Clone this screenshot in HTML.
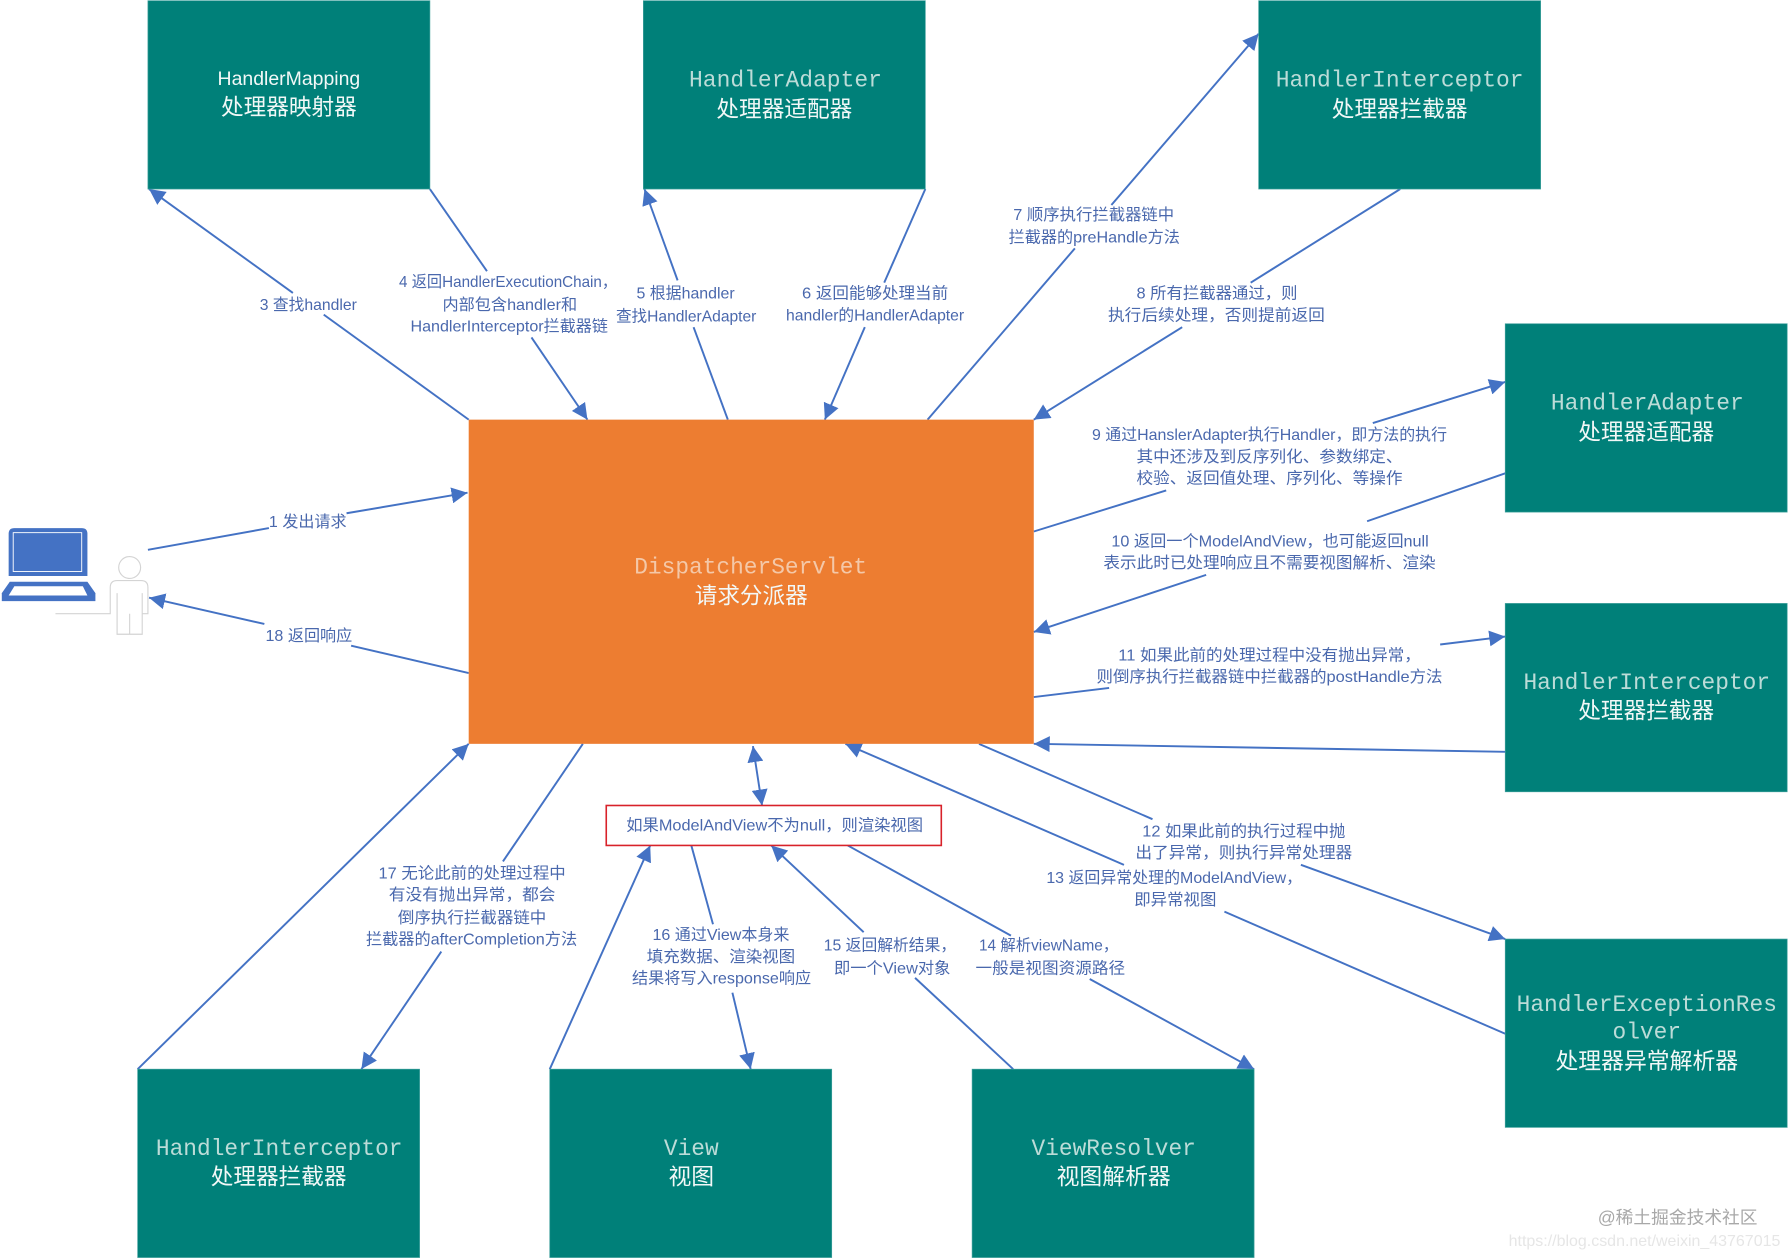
<!DOCTYPE html>
<html lang="zh">
<head>
<meta charset="utf-8">
<title>Spring MVC DispatcherServlet flow</title>
<style>
html,body{margin:0;padding:0;background:#fff;width:1789px;height:1258px;overflow:hidden}
svg{display:block}
.l{font-family:"Liberation Sans","Noto Sans CJK SC",sans-serif;font-size:14px;fill:#4a68ad}
.m{font-family:"Liberation Mono",monospace;font-size:20px;fill:#bcdcd8}
.c{font-family:"Liberation Sans","Noto Sans CJK SC",sans-serif;font-size:20px;fill:#f2f8f7}
.box{fill:#008079;stroke:#3fa09c;stroke-width:.6}
.a{stroke:#4472c4;stroke-width:1.7;fill:none}
</style>
</head>
<body>
<svg width="1789" height="1258" viewBox="0.5 0.4 1567 1102" xmlns="http://www.w3.org/2000/svg">
<defs>
<marker id="h" markerUnits="userSpaceOnUse" markerWidth="15" markerHeight="14" refX="14" refY="7" orient="auto-start-reverse"><path d="M0 0L14 7L0 14Z" fill="#4472c4"/></marker>
</defs>

<g>
<g><line class="a" x1="130" y1="482" x2="236" y2="463"/><line class="a" x1="304" y1="450" x2="410" y2="432" marker-end="url(#h)"/></g>
<g><line class="a" x1="411" y1="590" x2="308" y2="566"/><line class="a" x1="232" y1="547" x2="131" y2="524" marker-end="url(#h)"/></g>
<g><line class="a" x1="411" y1="368" x2="284" y2="276"/><line class="a" x1="257" y1="257" x2="131" y2="166" marker-end="url(#h)"/></g>
<g><line class="a" x1="377" y1="166" x2="427" y2="238"/><line class="a" x1="466" y1="296" x2="515" y2="368" marker-end="url(#h)"/></g>
<g><line class="a" x1="638" y1="368" x2="608" y2="287"/><line class="a" x1="594" y1="246" x2="565" y2="166" marker-end="url(#h)"/></g>
<g><line class="a" x1="811" y1="166" x2="775" y2="248"/><line class="a" x1="758" y1="287" x2="723" y2="368" marker-end="url(#h)"/></g>
<g><line class="a" x1="813" y1="368" x2="942" y2="218"/><line class="a" x1="974" y1="180" x2="1103" y2="30" marker-end="url(#h)"/></g>
<g><line class="a" x1="1227" y1="166" x2="1096" y2="248"/><line class="a" x1="1036" y1="287" x2="906" y2="368" marker-end="url(#h)"/></g>
<g><line class="a" x1="906" y1="466" x2="1022" y2="430"/><line class="a" x1="1203" y1="371" x2="1319" y2="335" marker-end="url(#h)"/></g>
<g><line class="a" x1="1319" y1="415" x2="1198" y2="457"/><line class="a" x1="1057" y1="504" x2="906" y2="554" marker-end="url(#h)"/></g>
<g><line class="a" x1="906" y1="611" x2="972" y2="603"/><line class="a" x1="1262" y1="565" x2="1319" y2="558" marker-end="url(#h)"/></g>
<g><line class="a" x1="1319" y1="659" x2="906" y2="652" marker-end="url(#h)"/></g>
<g><line class="a" x1="858" y1="652" x2="1010" y2="718"/><line class="a" x1="1140" y1="758" x2="1319" y2="823" marker-end="url(#h)"/></g>
<g><line class="a" x1="1319" y1="906" x2="1073" y2="799"/><line class="a" x1="985" y1="758" x2="741" y2="652" marker-end="url(#h)"/></g>
<g><line class="a" x1="660" y1="654" x2="668" y2="706" marker-start="url(#h)" marker-end="url(#h)"/></g>
<g><line class="a" x1="511" y1="652" x2="441" y2="755"/><line class="a" x1="387" y1="834" x2="317" y2="937" marker-end="url(#h)"/></g>
<g><line class="a" x1="121" y1="937" x2="411" y2="652" marker-end="url(#h)"/></g>
<g><line class="a" x1="482" y1="937" x2="570" y2="741" marker-end="url(#h)"/></g>
<g><line class="a" x1="606" y1="741" x2="625" y2="810"/><line class="a" x1="642" y1="870" x2="658" y2="937" marker-end="url(#h)"/></g>
<g><line class="a" x1="888" y1="937" x2="802" y2="857"/><line class="a" x1="757" y1="817" x2="676" y2="741" marker-end="url(#h)"/></g>
<g><line class="a" x1="743" y1="741" x2="886" y2="820"/><line class="a" x1="955" y1="858" x2="1099" y2="937" marker-end="url(#h)"/></g>
</g>

<rect x="411" y="368" width="495" height="284" fill="#ed7d31"/>
<g>
<text class="m" style="fill:#f4c8a8" x="556" y="503" textLength="204" lengthAdjust="spacingAndGlyphs">DispatcherServlet</text>
<text class="c" x="609" y="529" textLength="99" lengthAdjust="spacingAndGlyphs">请求分派器</text>
</g>

<g>
<rect class="box" x="130" y="1" width="247" height="165"/>
<text class="c" style="font-size:17px" x="191" y="75" textLength="125" lengthAdjust="spacingAndGlyphs">HandlerMapping</text>
<text class="c" x="194" y="101" textLength="119" lengthAdjust="spacingAndGlyphs">处理器映射器</text>
</g>
<g>
<rect class="box" x="564" y="1" width="247" height="165"/>
<text class="m" x="604" y="76" textLength="169" lengthAdjust="spacingAndGlyphs">HandlerAdapter</text>
<text class="c" x="628" y="103" textLength="119" lengthAdjust="spacingAndGlyphs">处理器适配器</text>
</g>
<g>
<rect class="box" x="1103" y="1" width="247" height="165"/>
<text class="m" x="1118" y="76" textLength="217" lengthAdjust="spacingAndGlyphs">HandlerInterceptor</text>
<text class="c" x="1167" y="103" textLength="119" lengthAdjust="spacingAndGlyphs">处理器拦截器</text>
</g>
<g>
<rect class="box" x="1319" y="284" width="247" height="165"/>
<text class="m" x="1359" y="359" textLength="169" lengthAdjust="spacingAndGlyphs">HandlerAdapter</text>
<text class="c" x="1383" y="386" textLength="119" lengthAdjust="spacingAndGlyphs">处理器适配器</text>
</g>
<g>
<rect class="box" x="1319" y="529" width="247" height="165"/>
<text class="m" x="1335" y="604" textLength="216" lengthAdjust="spacingAndGlyphs">HandlerInterceptor</text>
<text class="c" x="1383" y="630" textLength="119" lengthAdjust="spacingAndGlyphs">处理器拦截器</text>
</g>
<g>
<rect class="box" x="1319" y="823" width="247" height="165"/>
<text class="m" x="1329" y="886" textLength="228" lengthAdjust="spacingAndGlyphs">HandlerExceptionRes</text>
<text class="m" x="1413" y="910" textLength="60" lengthAdjust="spacingAndGlyphs">olver</text>
<text class="c" x="1363" y="937" textLength="160" lengthAdjust="spacingAndGlyphs">处理器异常解析器</text>
</g>
<g>
<rect class="box" x="121" y="937" width="247" height="165"/>
<text class="m" x="137" y="1012" textLength="216" lengthAdjust="spacingAndGlyphs">HandlerInterceptor</text>
<text class="c" x="185" y="1038" textLength="119" lengthAdjust="spacingAndGlyphs">处理器拦截器</text>
</g>
<g>
<rect class="box" x="482" y="937" width="247" height="165"/>
<text class="m" x="582" y="1012" textLength="48" lengthAdjust="spacingAndGlyphs">View</text>
<text class="c" x="586" y="1038" textLength="40" lengthAdjust="spacingAndGlyphs">视图</text>
</g>
<g>
<rect class="box" x="852" y="937" width="247" height="165"/>
<text class="m" x="904" y="1012" textLength="144" lengthAdjust="spacingAndGlyphs">ViewResolver</text>
<text class="c" x="926" y="1038" textLength="100" lengthAdjust="spacingAndGlyphs">视图解析器</text>
</g>

<g>
<rect x="531.5" y="706" width="293.5" height="35" fill="#fff" stroke="#d8222a" stroke-width="1.4"/>
<text class="l" x="549" y="728" textLength="260" lengthAdjust="spacingAndGlyphs">如果ModelAndView不为null，则渲染视图</text>
</g>

<g>
<path d="M8 468q0-5 5-5h59q5 0 5 5v37H8Z" fill="#4472c4"/>
<rect x="12" y="467" width="60" height="34" fill="#4472c4" stroke="#fff" stroke-width=".8"/>
<path d="M9 510H77L84 520V527H2V520Z" fill="#4472c4"/>
<path d="M13 514H73L77 522H8Z" fill="#fff"/>
</g>
<g fill="#fff" stroke="#d4d4d4" stroke-width="1">
<circle cx="114" cy="497.5" r="9.6"/>
<path d="M49 538H97V515q0-6 6-6h21q6 0 6 6v23h-5M103 520V556H125V520M114 538V556"/>
</g>

<g>
<g><text class="l" x="236" y="462" textLength="68" lengthAdjust="spacingAndGlyphs">1 发出请求</text></g>
<g><text class="l" x="233" y="562" textLength="76" lengthAdjust="spacingAndGlyphs">18 返回响应</text></g>
<g><text class="l" x="228" y="272" textLength="85" lengthAdjust="spacingAndGlyphs">3 查找handler</text></g>
<g>
<text class="l" x="350" y="252" textLength="191" lengthAdjust="spacingAndGlyphs">4 返回HandlerExecutionChain，</text>
<text class="l" x="388" y="272" textLength="118" lengthAdjust="spacingAndGlyphs">内部包含handler和</text>
<text class="l" x="360" y="291" textLength="173" lengthAdjust="spacingAndGlyphs">HandlerInterceptor拦截器链</text>
</g>
<g>
<text class="l" x="558" y="262" textLength="86" lengthAdjust="spacingAndGlyphs">5 根据handler</text>
<text class="l" x="540" y="282" textLength="123" lengthAdjust="spacingAndGlyphs">查找HandlerAdapter</text>
</g>
<g>
<text class="l" x="703" y="262" textLength="128" lengthAdjust="spacingAndGlyphs">6 返回能够处理当前</text>
<text class="l" x="689" y="281" textLength="156" lengthAdjust="spacingAndGlyphs">handler的HandlerAdapter</text>
</g>
<g>
<text class="l" x="888" y="193" textLength="141" lengthAdjust="spacingAndGlyphs">7 顺序执行拦截器链中</text>
<text class="l" x="884" y="213" textLength="150" lengthAdjust="spacingAndGlyphs">拦截器的preHandle方法</text>
</g>
<g>
<text class="l" x="996" y="262" textLength="141" lengthAdjust="spacingAndGlyphs">8 所有拦截器通过，则</text>
<text class="l" x="971" y="281" textLength="190" lengthAdjust="spacingAndGlyphs">执行后续处理，否则提前返回</text>
</g>
<g>
<text class="l" x="957" y="386" textLength="311" lengthAdjust="spacingAndGlyphs">9 通过HanslerAdapter执行Handler，即方法的执行</text>
<text class="l" x="996" y="405" textLength="233" lengthAdjust="spacingAndGlyphs">其中还涉及到反序列化、参数绑定、</text>
<text class="l" x="996" y="424" textLength="233" lengthAdjust="spacingAndGlyphs">校验、返回值处理、序列化、等操作</text>
</g>
<g>
<text class="l" x="974" y="479" textLength="278" lengthAdjust="spacingAndGlyphs">10 返回一个ModelAndView，也可能返回null</text>
<text class="l" x="967" y="498" textLength="291" lengthAdjust="spacingAndGlyphs">表示此时已处理响应且不需要视图解析、渲染</text>
</g>
<g>
<text class="l" x="980" y="579" textLength="265" lengthAdjust="spacingAndGlyphs">11 如果此前的处理过程中没有抛出异常，</text>
<text class="l" x="961" y="598" textLength="303" lengthAdjust="spacingAndGlyphs">则倒序执行拦截器链中拦截器的postHandle方法</text>
</g>
<g>
<text class="l" x="1001" y="733" textLength="178" lengthAdjust="spacingAndGlyphs">12 如果此前的执行过程中抛</text>
<text class="l" x="995" y="752" textLength="190" lengthAdjust="spacingAndGlyphs">出了异常，则执行异常处理器</text>
</g>
<g>
<text class="l" x="917" y="774" textLength="224" lengthAdjust="spacingAndGlyphs">13 返回异常处理的ModelAndView，</text>
<text class="l" x="994" y="793" textLength="72" lengthAdjust="spacingAndGlyphs">即异常视图</text>
</g>
<g>
<text class="l" x="858" y="833" textLength="122" lengthAdjust="spacingAndGlyphs">14 解析viewName，</text>
<text class="l" x="855" y="853" textLength="131" lengthAdjust="spacingAndGlyphs">一般是视图资源路径</text>
</g>
<g>
<text class="l" x="722" y="833" textLength="116" lengthAdjust="spacingAndGlyphs">15 返回解析结果，</text>
<text class="l" x="731" y="853" textLength="102" lengthAdjust="spacingAndGlyphs">即一个View对象</text>
</g>
<g>
<text class="l" x="572" y="824" textLength="120" lengthAdjust="spacingAndGlyphs">16 通过View本身来</text>
<text class="l" x="567" y="843" textLength="130" lengthAdjust="spacingAndGlyphs">填充数据、渲染视图</text>
<text class="l" x="554" y="862" textLength="157" lengthAdjust="spacingAndGlyphs">结果将写入response响应</text>
</g>
<g>
<text class="l" x="332" y="770" textLength="164" lengthAdjust="spacingAndGlyphs">17 无论此前的处理过程中</text>
<text class="l" x="341" y="789" textLength="146" lengthAdjust="spacingAndGlyphs">有没有抛出异常，都会</text>
<text class="l" x="349" y="809" textLength="130" lengthAdjust="spacingAndGlyphs">倒序执行拦截器链中</text>
<text class="l" x="321" y="828" textLength="185" lengthAdjust="spacingAndGlyphs">拦截器的afterCompletion方法</text>
</g>
</g>

<g>
<text x="1400" y="1072" textLength="140" lengthAdjust="spacingAndGlyphs" style="font-family:'Liberation Sans','Noto Sans CJK SC',sans-serif;font-size:15.5px;fill:#a8a8a8">@稀土掘金技术社区</text>
<text x="1322" y="1092" textLength="238" lengthAdjust="spacingAndGlyphs" style="font-family:'Liberation Sans',sans-serif;font-size:13.5px;fill:#e6e6e6">https://blog.csdn.net/weixin_43767015</text>
</g>
</svg>
</body>
</html>
